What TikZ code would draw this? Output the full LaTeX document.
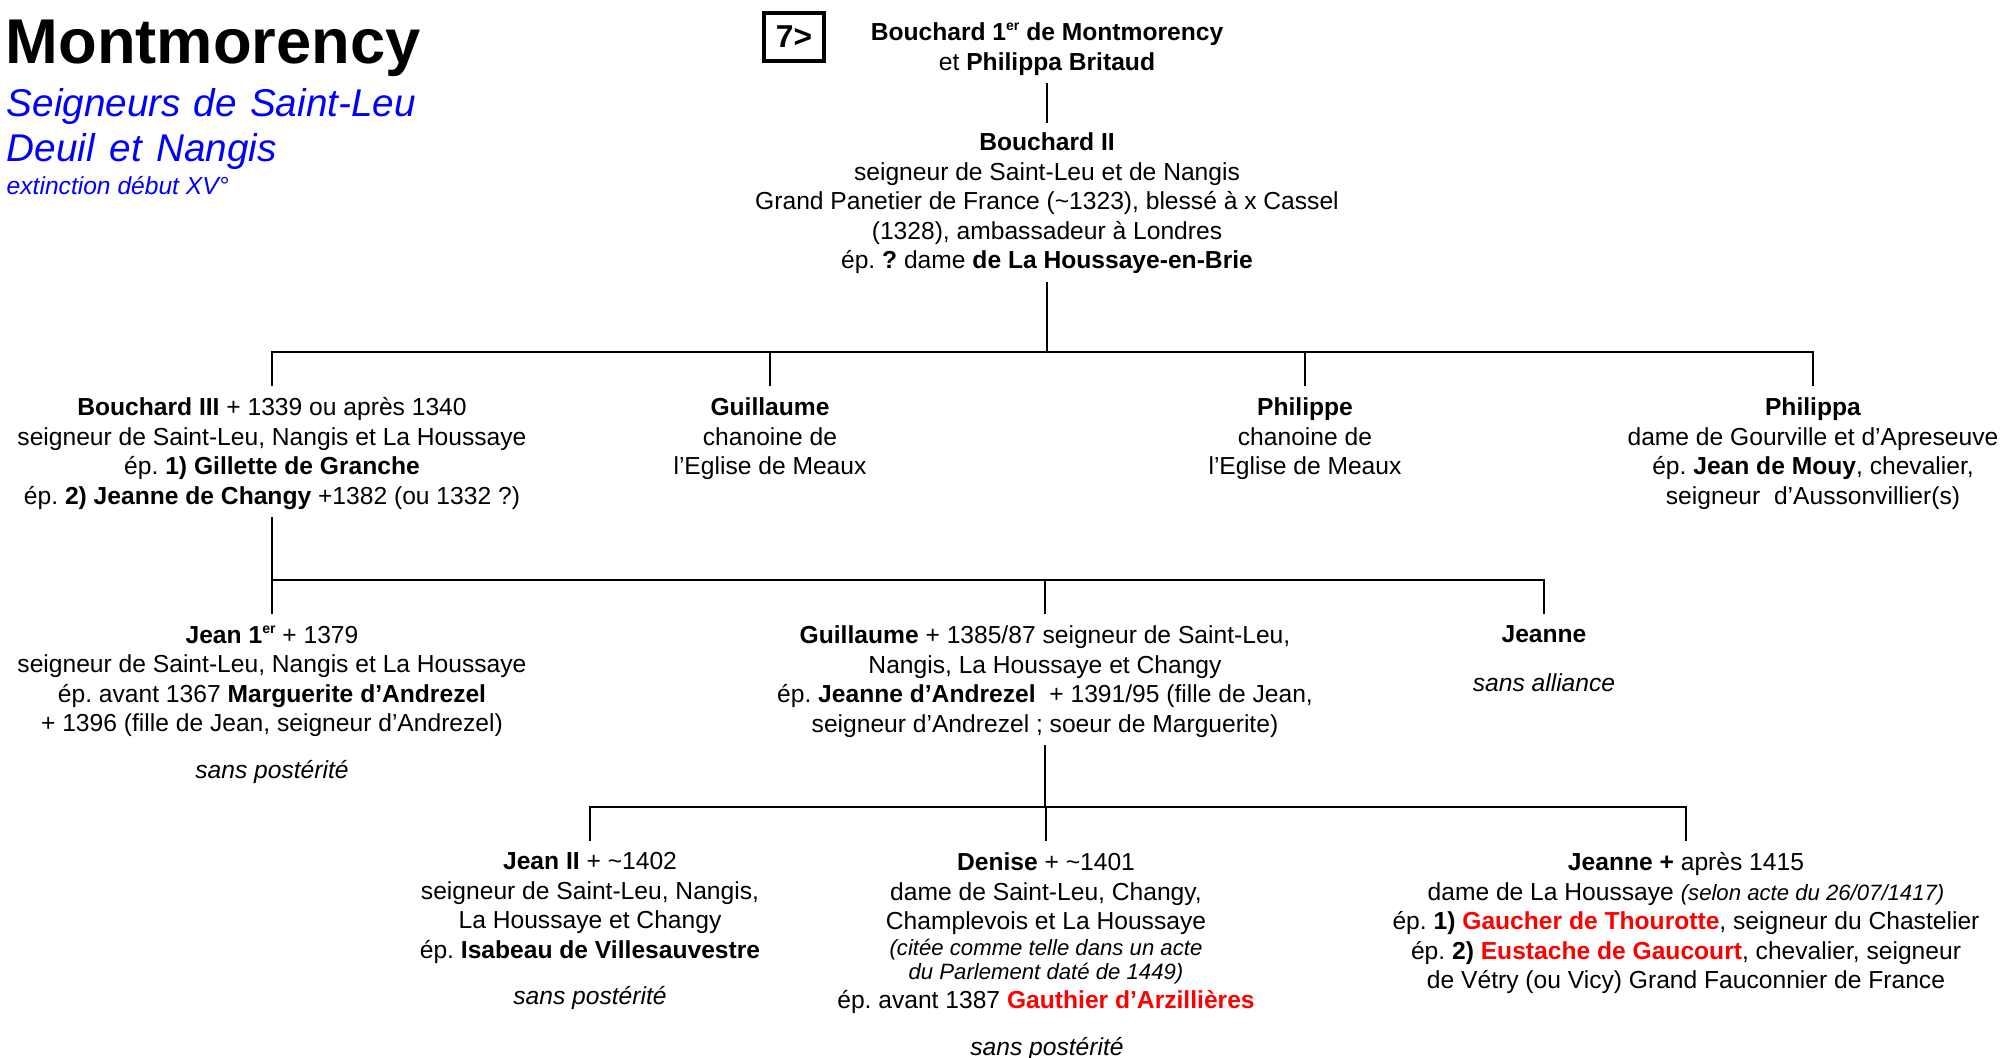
\documentclass[tikz,border=0pt]{standalone}
\usepackage{xcolor}
\usepackage{fontspec}
\setmainfont{Liberation Sans}
\usepackage{tikz}

\newcommand{\redname}[1]{\textcolor{red}{\textbf{#1}}}
\newcommand{\smallnote}[1]{{\fontsize{6.3}{7}\selectfont\itshape #1}}
\newcommand{\premier}{\raisebox{0.75ex}{\fontsize{4}{4}\selectfont er}}
\frenchspacing

\begin{document}
\begin{tikzpicture}[x=0.01cm,y=-0.01cm,
				person/.style={align=center,inner sep=0pt,anchor=north,font=\fontsize{7}{8.4}\selectfont},
				remark/.style={person,font=\fontsize{7}{8.4}\selectfont\itshape},
				link/.style={line width=0.8pt,shorten <=2pt},
				bar/.style={line width=0.8pt,line cap=rect},
				drop/.style={line width=0.8pt,shorten >=3pt}]
				
				\useasboundingbox (0,0) rectangle (2002,1058);
				
				% Title
				\node[anchor=base west,inner sep=0pt,font=\fontsize{18}{20}\selectfont\bfseries] (title) at (5,64) {Montmorency};
				\node[anchor=base west,inner sep=0pt,text=blue,font=\fontsize{11}{12.8}\selectfont\itshape] (sub1) at (6,117) {\spaceskip=0.34em\relax Seigneurs de Saint-Leu};
				\node[anchor=base west,inner sep=0pt,text=blue,font=\fontsize{11}{12.8}\selectfont\itshape] (sub2) at (6,162) {\spaceskip=0.38em\relax Deuil et Nangis};
				\node[anchor=base west,inner sep=0pt,text=blue,font=\fontsize{7}{8.4}\selectfont\itshape] (ext) at (6,195) {extinction début XV°};
				\node[draw,line width=1pt,minimum width=0.6cm,minimum height=0.48cm,inner sep=0pt,font=\fontsize{9}{10}\selectfont\bfseries] (ref) at (794,37) {7>};
				
				% Generation 1 and 2
				\node[person] (b1) at (1047,22) {\textbf{Bouchard 1\premier\ de Montmorency}\\et \textbf{Philippa Britaud}};
				\node[person] (b2) at (1047,132) {\textbf{Bouchard II}\\seigneur de Saint-Leu et de Nangis\\Grand Panetier de France (\textasciitilde1323), blessé à x Cassel\\(1328), ambassadeur à Londres\\ép. \textbf{?} dame \textbf{de La Houssaye-en-Brie}};
				
				% Children of Bouchard II
				\node[person] (b3) at (272,397) {\textbf{Bouchard III} + 1339 ou après 1340\\seigneur de Saint-Leu, Nangis et La Houssaye\\ép. \textbf{1) Gillette de Granche}\\ép. \textbf{2) Jeanne de Changy} +1382 (ou 1332 ?)};
				\node[person] (guillC) at (770,397) {\textbf{Guillaume}\\chanoine de\\l’Eglise de Meaux};
				\node[person] (philC) at (1305,397) {\textbf{Philippe}\\chanoine de\\l’Eglise de Meaux};
				\node[person] (philippa) at (1813,397) {\textbf{Philippa}\\dame de Gourville et d’Apreseuve\\ép. \textbf{Jean de Mouy}, chevalier,\\seigneur\ \ d’Aussonvillier(s)};
				
				% Children of Bouchard III
				\node[person] (jean1) at (272,625) {\textbf{Jean 1\premier} + 1379\\seigneur de Saint-Leu, Nangis et La Houssaye\\ép. avant 1367 \textbf{Marguerite d’Andrezel}\\+ 1396 (fille de Jean, seigneur d’Andrezel)};
				\node[remark] (sp1) at (272,760) {sans postérité};
				\node[person] (guillB) at (1045,625) {\textbf{Guillaume} + 1385/87 seigneur de Saint-Leu,\\Nangis, La Houssaye et Changy\\ép. \textbf{Jeanne d’Andrezel}\ \ + 1391/95 (fille de Jean,\\seigneur d’Andrezel ; soeur de Marguerite)};
				\node[person] (jeanneS) at (1544,625) {\textbf{Jeanne}};
				\node[remark] (alliance) at (1544,673) {sans alliance};
				
				% Children of Guillaume
				\node[person] (jean2) at (590,852) {\textbf{Jean II} + \textasciitilde1402\\seigneur de Saint-Leu, Nangis,\\La Houssaye et Changy\\ép. \textbf{Isabeau de Villesauvestre}};
				\node[remark] (sp2) at (590,986) {sans postérité};
				\node[person] (denise) at (1046,852) {\textbf{Denise} + \textasciitilde1401\\dame de Saint-Leu, Changy,\\Champlevois et La Houssaye\\[-0.9pt]\smallnote{(citée comme telle dans un acte}\\[-1.6pt]\smallnote{du Parlement daté de 1449)}\\[-0.4pt]ép. avant 1387 \redname{Gauthier d’Arzillières}};
				\node[remark] (sp3) at (1047,1037) {sans postérité};
				\node[person] (jeanneH) at (1686,852) {\textbf{Jeanne +} après 1415\\dame de La Houssaye \smallnote{(selon acte du 26/07/1417)}\\ép. \textbf{1)} \redname{Gaucher de Thourotte}, seigneur du Chastelier\\ép. \textbf{2)} \redname{Eustache de Gaucourt}, chevalier, seigneur\\de Vétry (ou Vicy) Grand Fauconnier de France};
				
				% Connections
				\coordinate (k1) at (1047,352);
				\coordinate (k2) at (272,580);
				\coordinate (k3) at (1045,807);
				
				\draw[link,shorten >=2.5pt] (b1.south) -- (b2.north);
				
				\draw[link] (b2.south) -- (k1);
				\draw[bar] (k1 -| b3) -- (k1 -| philippa);
				\foreach \c in {b3,guillC,philC,philippa}
				\draw[drop] (k1 -| \c.north) -- (\c.north);
				
				\draw[link] (b3.south) -- (k2);
				\draw[bar] (k2 -| jean1) -- (k2 -| jeanneS);
				\foreach \c in {jean1,guillB,jeanneS}
				\draw[drop] (k2 -| \c.north) -- (\c.north);
				
				\draw[link] (guillB.south) -- (k3);
				\draw[bar] (k3 -| jean2) -- (k3 -| jeanneH);
				\foreach \c in {jean2,denise,jeanneH}
				\draw[drop] (k3 -| \c.north) -- (\c.north);
			\end{tikzpicture}
\end{document}
